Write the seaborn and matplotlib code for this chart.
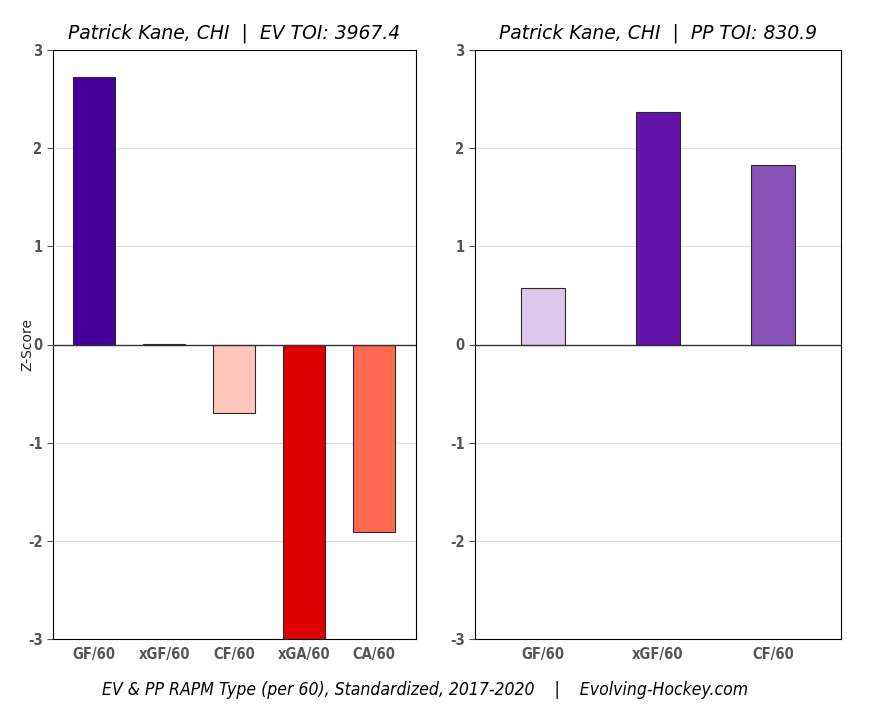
import matplotlib
matplotlib.use("Agg")
import matplotlib.pyplot as plt
import seaborn as sns
import pandas as pd

ev_metrics = ["GF/60", "xGF/60", "CF/60", "xGA/60", "CA/60"]
ev_values = [2.73, 0.005, -0.70, -3.0, -1.91]
ev_colors = ["#440099", "#4a1a90", "#ffc6bb", "#de0000", "#ff6a50"]

pp_metrics = ["GF/60", "xGF/60", "CF/60"]
pp_values = [0.58, 2.37, 1.83]
pp_colors = ["#dbc8ea", "#6414a8", "#8952ba"]

ev_title = "Patrick Kane, CHI  |  EV TOI: 3967.4"
pp_title = "Patrick Kane, CHI  |  PP TOI: 830.9"
footer = "EV & PP RAPM Type (per 60), Standardized, 2017-2020    |    Evolving-Hockey.com"
yticks = [-3, -2, -1, 0, 1, 2, 3]

sns.set_style("white")
plt.rcParams['font.family'] = ['DejaVu Sans']

fig = plt.figure(figsize=(8.82, 7.05), dpi=100)
ax1 = fig.add_axes([53/882, 1-639/705, 363/882, 589/705])
ax2 = fig.add_axes([475/882, 1-639/705, 366/882, 589/705])

def draw(ax, metrics, values, colors, width, title, xlim):
    df = pd.DataFrame({"metric": metrics, "value": values})
    sns.barplot(data=df, x="metric", y="value", hue="metric", palette=colors,
                width=width, edgecolor="#2a2a2a", linewidth=0.8, legend=False,
                ax=ax, zorder=3, saturation=1)
    ax.set_ylim(-3, 3)
    ax.set_xlim(*xlim)
    ax.set_yticks(yticks)
    ax.set_yticklabels([str(t) for t in yticks])
    for y in [-2, -1, 1, 2]:
        ax.axhline(y, color="#dddddd", linewidth=0.7, zorder=0)
    ax.axhline(0, color="#333333", linewidth=1.0, zorder=4)
    ax.set_xlabel("")
    ax.set_ylabel("")
    ax.set_title(title, fontsize=13.5, fontstyle="italic", pad=8, color="black")
    for lab in ax.get_xticklabels() + ax.get_yticklabels():
        lab.set_fontweight("bold")
        lab.set_color("#555555")
        lab.set_fontsize(10.5)
        lab.set_fontstretch("condensed")
    ax.tick_params(axis="y", length=4, width=0.8, color="#555555", left=True)
    ax.tick_params(axis="x", length=0, pad=6)
    for s in ax.spines.values():
        s.set_color("#000000")
        s.set_linewidth(0.8)

draw(ax1, ev_metrics, ev_values, ev_colors, 0.6, ev_title, (-0.59, 4.6))
draw(ax2, pp_metrics, pp_values, pp_colors, 0.38, pp_title, (-0.59, 2.59))

ax1.set_ylabel("Z-Score", fontsize=10, color="#222222", labelpad=-5)

fig.text(425.5/882, 1-690/705, footer, ha="center", va="center", fontsize=12.6,
         fontstyle="italic", fontstretch="condensed", color="black")

fig.savefig("out.png", dpi=100, facecolor="white")
